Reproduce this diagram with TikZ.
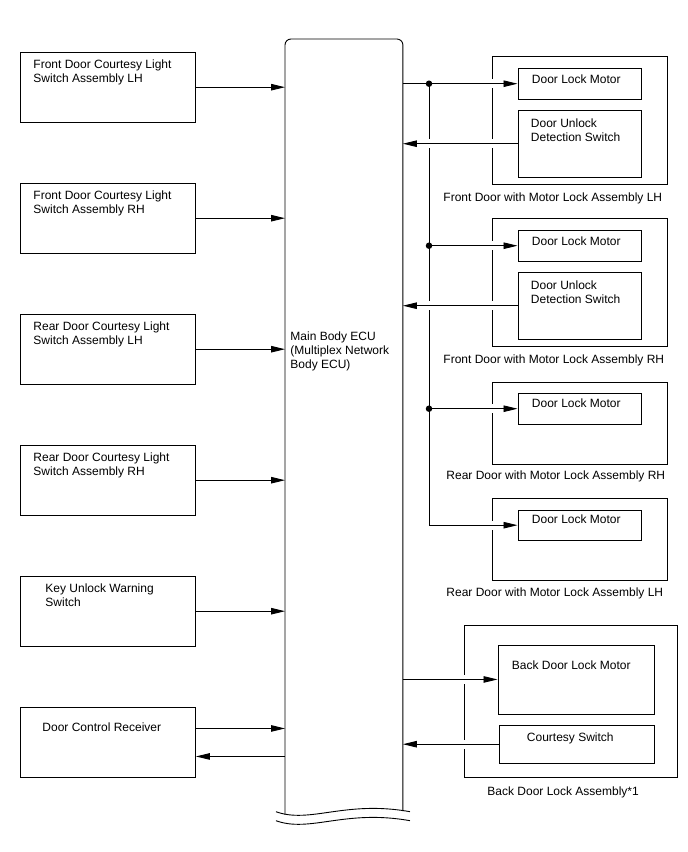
\documentclass[tikz,border=0pt]{standalone}
\usepackage{fontspec}
\setmainfont{Liberation Sans}
\usetikzlibrary{arrows.meta, positioning}

\begin{document}
\begin{tikzpicture}[x=1pt, y=-1pt, line width=0.9pt,
    font=\fontsize{12}{14}\selectfont,
    >={Triangle[length=14pt, width=6.5pt]},
    box/.style={draw, anchor=north west, inner sep=0pt},
    swbox/.style={box, minimum width=175pt, minimum height=69.5pt},
    assy/.style={box, minimum width=175pt},
    part/.style={box, minimum width=123.5pt},
    txt/.style={anchor=north west, inner sep=0pt, align=left},
    gap/.style={preaction={draw=white, line width=9pt, -, shorten <=4pt, shorten >=4pt}},
    dot/.style={circle, fill, inner sep=0pt, minimum size=6.5pt}]
  \useasboundingbox (0,0) rectangle (688,852);

  % Main Body ECU
  \node[box, draw=none, minimum width=117pt, minimum height=773pt,
        label={[txt, xshift=5pt, yshift=-292pt]north west:{Main Body ECU\\(Multiplex Network\\Body ECU)}}] (ecu) at (285,39) {};
  \draw[rounded corners=6pt] ([yshift=-2pt]ecu.south west) -- (ecu.north west) -- (ecu.north east) -- ([yshift=1.7pt]ecu.south east);
  \draw (276,811.7) .. controls (310,824) and (345,800) .. (410,811.7);
  \draw (276,820.7) .. controls (310,833) and (345,809) .. (410,820.7);

  % Switches on the left
  \node[swbox, label={[txt, xshift=13pt, yshift=-7pt]north west:{Front Door Courtesy Light\\Switch Assembly LH}}] (fdswlh) at (20,52) {};
  \node[swbox, label={[txt, xshift=13pt, yshift=-7pt]north west:{Front Door Courtesy Light\\Switch Assembly RH}}] (fdswrh) at (20,183) {};
  \node[swbox, label={[txt, xshift=13pt, yshift=-7pt]north west:{Rear Door Courtesy Light\\Switch Assembly LH}}] (rdswlh) at (20,314) {};
  \node[swbox, label={[txt, xshift=13pt, yshift=-7pt]north west:{Rear Door Courtesy Light\\Switch Assembly RH}}] (rdswrh) at (20,445) {};
  \node[swbox, label={[txt, xshift=25pt, yshift=-7pt]north west:{Key Unlock Warning\\Switch}}] (kuwsw) at (20,576) {};
  \node[swbox, minimum height=70pt, label={[txt, xshift=22pt, yshift=-15pt]north west:{Door Control Receiver}}] (dcr) at (20,707) {};

  % Door assemblies on the right
  \node[assy, minimum height=128pt, label={[txt, xshift=-49pt, yshift=-7pt]south west:{Front Door with Motor Lock Assembly LH}}] (fdlh) at (492,56) {};
  \node[assy, minimum height=128pt, label={[txt, xshift=-49pt, yshift=-7pt]south west:{Front Door with Motor Lock Assembly RH}}] (fdrh) at (492,218) {};
  \node[assy, minimum height=82pt, label={[txt, xshift=-46pt, yshift=-6pt]south west:{Rear Door with Motor Lock Assembly RH}}] (rdrh) at (492,381.5) {};
  \node[assy, minimum height=82pt, label={[txt, xshift=-46pt, yshift=-6pt]south west:{Rear Door with Motor Lock Assembly LH}}] (rdlh) at (492,498) {};
  \node[box, minimum width=213pt, minimum height=152pt, label={[txt, xshift=23pt, yshift=-8pt]south west:{Back Door Lock Assembly*1}}] (bdla) at (464,625) {};

  % Parts inside the assemblies
  \node[part, minimum height=30.5pt, label={[txt, xshift=14pt, yshift=-6pt]north west:{Door Lock Motor}}] (dlm1) at (517.5,68) {};
  \node[part, minimum height=66.5pt, label={[txt, xshift=13pt, yshift=-8pt]north west:{Door Unlock\\Detection Switch}}] (dus1) at (517.5,110) {};
  \node[part, minimum height=30.5pt, label={[txt, xshift=14pt, yshift=-6pt]north west:{Door Lock Motor}}] (dlm2) at (517.5,230) {};
  \node[part, minimum height=66.5pt, label={[txt, xshift=13pt, yshift=-8pt]north west:{Door Unlock\\Detection Switch}}] (dus2) at (517.5,272) {};
  \node[part, minimum height=30.5pt, label={[txt, xshift=14pt, yshift=-5pt]north west:{Door Lock Motor}}] (dlm3) at (517.5,393) {};
  \node[part, minimum height=30.5pt, label={[txt, xshift=14pt, yshift=-5pt]north west:{Door Lock Motor}}] (dlm4) at (517.5,509.5) {};
  \node[box, minimum width=156pt, minimum height=69pt, label={[txt, xshift=14pt, yshift=-15.5pt]north west:{Back Door Lock Motor}}] (bdm) at (497.5,644.5) {};
  \node[box, minimum width=155pt, minimum height=38.5pt, label={[txt, xshift=28pt, yshift=-8pt]north west:{Courtesy Switch}}] (cs) at (498.5,724.5) {};

  \coordinate (bus) at (429,0);

  % Inputs from the left
  \draw[->] (fdswlh.east) -- (fdswlh.east -| ecu.west);
  \draw[->] (fdswrh.east) -- (fdswrh.east -| ecu.west);
  \draw[->] (rdswlh.east) -- (rdswlh.east -| ecu.west);
  \draw[->] (rdswrh.east) -- (rdswrh.east -| ecu.west);
  \draw[->] (kuwsw.east) -- (kuwsw.east -| ecu.west);
  \draw[->] ([yshift=14pt]dcr.east) -- ([yshift=14pt]dcr.east -| ecu.west);
  \draw[<-] ([yshift=-14pt]dcr.east) -- ([yshift=-14pt]dcr.east -| ecu.west);

  % Door lock motor bus
  \draw[->, gap] (ecu.east |- dlm1.west) -- (dlm1.west);
  \draw[->, gap] (bus |- dlm1.west) |- (dlm4.west);
  \draw[->, gap] (bus |- dlm2.west) -- (dlm2.west);
  \draw[->, gap] (bus |- dlm3.west) -- (dlm3.west);
  \draw[->, gap] (dus1.west) -- (dus1.west -| ecu.east);
  \draw[->, gap] (dus2.west) -- (dus2.west -| ecu.east);
  \node[dot] (j1) at (bus |- dlm1.west) {};
  \node[dot] (j2) at (bus |- dlm2.west) {};
  \node[dot] (j3) at (bus |- dlm3.west) {};

  % Back door
  \draw[->, gap] (ecu.east |- bdm.west) -- (bdm.west);
  \draw[->, gap] (cs.west) -- (cs.west -| ecu.east);
\end{tikzpicture}
\end{document}
